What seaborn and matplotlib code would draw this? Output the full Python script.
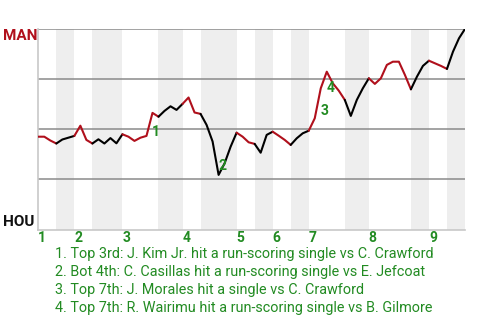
import matplotlib
matplotlib.use("Agg")
import matplotlib.pyplot as plt
import matplotlib.transforms as mtransforms
import seaborn as sns
import pandas as pd

# ---- data ----
# MAN win probability (%) after each play (index 0 = game start)
win_prob = [45.9, 45.9, 44.0, 42.5, 44.5, 45.4, 46.3, 51.4, 44.3, 42.5,
            44.6, 42.5, 45.2, 42.6, 47.1, 45.9, 43.8, 45.4, 46.3, 57.8,
            55.9, 58.8, 61.1, 59.3, 62.3, 65.5, 58.0, 57.3, 51.8, 43.5,
            26.8, 32.6, 40.9, 47.9, 45.9, 43.1, 42.3, 37.9, 46.8, 48.4,
            46.4, 44.3, 41.8, 45.1, 47.6, 48.9, 55.1, 70.1, 78.4, 72.6,
            68.9, 64.3, 56.3, 64.3, 70.1, 75.1, 72.3, 75.1, 81.8, 83.4,
            83.4, 76.8, 69.6, 75.9, 81.3, 83.9, 82.6, 81.3, 79.8, 88.4,
            95.1, 99.8]
# number of plays in each half inning (top 1, bot 1, top 2, ...)
half_plays = [3, 3, 3, 5, 6, 4, 3, 6, 3, 3, 3, 3, 6, 4, 7, 3, 3, 3]
inning_labels = ["1", "2", "3", "4", "5", "6", "7", "8", "9"]
team_top = "MAN"
team_bottom = "HOU"
# key plays: (label, play index where the play ends)
event_nums = ["1", "2", "3", "4"]
event_plays = [19, 30, 47, 48]
event_texts = [
    "1. Top 3rd: J. Kim Jr. hit a run-scoring single vs C. Crawford",
    "2. Bot 4th: C. Casillas hit a run-scoring single vs E. Jefcoat",
    "3. Top 7th: J. Morales hit a single vs C. Crawford",
    "4. Top 7th: R. Wairimu hit a run-scoring single vs B. Gilmore",
]

RED = "#b0101c"
GREEN = "#228b22"
BAND = "#eeeeee"

sns.set_theme(style="white")
plt.rcParams["font.family"] = ["Roboto", "DejaVu Sans"]

fig = plt.figure(figsize=(4.8, 3.2), dpi=100)
ax = fig.add_axes([38.3 / 480, 1 - 230 / 320, (465 - 38.3) / 480, (230 - 28.5) / 320])

n = len(win_prob) - 1
ax.set_xlim(0, n)
ax.set_ylim(-0.75, 100)

# half-inning boundaries
bounds = [0]
for c in half_plays:
    bounds.append(bounds[-1] + c)

# shaded bottom halves
for h in range(len(half_plays)):
    if h % 2 == 1:
        ax.axvspan(bounds[h], bounds[h + 1], color=BAND, lw=0, zorder=0)

# gridlines
for gy in [25, 50, 75, 100]:
    ax.axhline(gy, color="#8a8a8a", lw=1.1, zorder=1)

# line segments coloured by half-inning
for h in range(len(half_plays)):
    s, e = bounds[h], bounds[h + 1]
    df = pd.DataFrame({"play": list(range(s, e + 1)), "wp": win_prob[s:e + 1]})
    sns.lineplot(data=df, x="play", y="wp", ax=ax,
                 color=RED if h % 2 == 0 else "black", lw=1.5, zorder=3)

# event labels
for lab, p in zip(event_nums, event_plays):
    mx = p - 0.5
    my = (win_prob[p - 1] + win_prob[p]) / 2
    ax.annotate(lab, xy=(mx, my), xytext=(6.5, -7.5), textcoords="offset pixels",
                ha="center", va="center", color=GREEN, fontsize=10,
                fontweight="bold", zorder=4)

ax.set_xlabel("")
ax.set_ylabel("")
ax.set_xticks([])
ax.set_yticks([])
for side in ["top", "right"]:
    ax.spines[side].set_visible(False)
for side in ["left", "bottom"]:
    ax.spines[side].set_color("#c8c8c8")
    ax.spines[side].set_linewidth(1.2)

# team labels
fig.text(3 / 480, 1 - 29 / 320, team_top, color=RED, fontsize=11,
         fontweight="bold", ha="left", va="top")
fig.text(3 / 480, 1 - 226.5 / 320, team_bottom, color="#111111", fontsize=11,
         fontweight="bold", ha="left", va="baseline")

# inning labels
trans = mtransforms.blended_transform_factory(ax.transData, fig.transFigure)
for k, lab in enumerate(inning_labels):
    ax.text(bounds[2 * k], 1 - 238 / 320, lab, transform=trans, color=GREEN,
            fontsize=10, fontweight="bold", ha="left", va="center")

# event descriptions
for k, t in enumerate(event_texts):
    fig.text(55 / 480, 1 - (254 + 18 * k) / 320, t, color=GREEN, fontsize=10.4,
             ha="left", va="center")

fig.savefig("out.png", dpi=100)
